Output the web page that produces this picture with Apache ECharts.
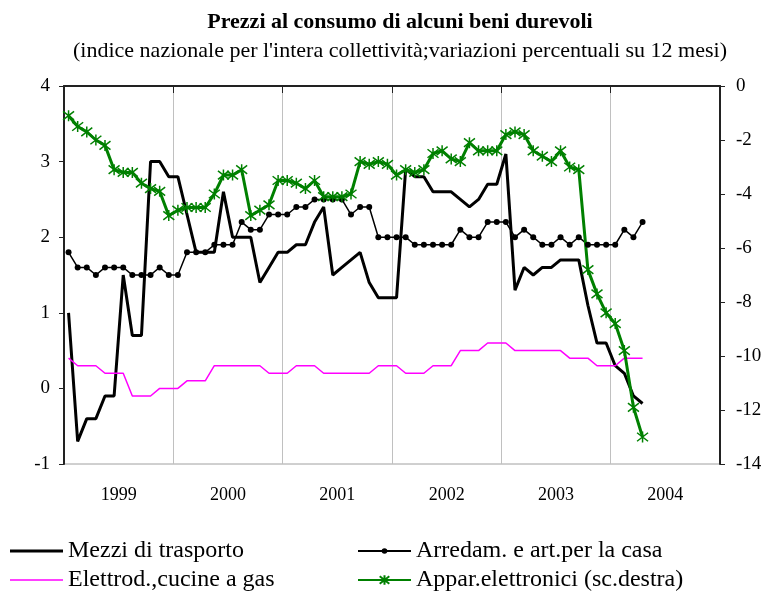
<!DOCTYPE html>
<html>
<head>
<meta charset="utf-8">
<script src="https://cdn.jsdelivr.net/npm/echarts@6/dist/echarts.min.js"></script>
<style>
  html, body { margin: 0; padding: 0; background: #fff; }
  #main { width: 768px; height: 598px; }
</style>
</head>
<body>
<div id="main"></div>
<script>
// monthly data, Jan 1999 - Apr 2004
const years = ['1999', '2000', '2001', '2002', '2003', '2004'];

const mezzi = [1.0, -0.7, -0.4, -0.4, -0.1, -0.1, 1.5, 0.7, 0.7, 3.0, 3.0, 2.8,
  2.8, 2.3, 1.8, 1.8, 1.8, 2.6, 2.0, 2.0, 2.0, 1.4, 1.6, 1.8,
  1.8, 1.9, 1.9, 2.2, 2.4, 1.5, 1.6, 1.7, 1.8, 1.4, 1.2, 1.2,
  1.2, 2.9, 2.8, 2.8, 2.6, 2.6, 2.6, 2.5, 2.4, 2.5, 2.7, 2.7,
  3.1, 1.3, 1.6, 1.5, 1.6, 1.6, 1.7, 1.7, 1.7, 1.1, 0.6, 0.6,
  0.3, 0.2, -0.1, -0.2];

const arredam = [1.8, 1.6, 1.6, 1.5, 1.6, 1.6, 1.6, 1.5, 1.5, 1.5, 1.6, 1.5,
  1.5, 1.8, 1.8, 1.8, 1.9, 1.9, 1.9, 2.2, 2.1, 2.1, 2.3, 2.3,
  2.3, 2.4, 2.4, 2.5, 2.5, 2.5, 2.5, 2.3, 2.4, 2.4, 2.0, 2.0,
  2.0, 2.0, 1.9, 1.9, 1.9, 1.9, 1.9, 2.1, 2.0, 2.0, 2.2, 2.2,
  2.2, 2.0, 2.1, 2.0, 1.9, 1.9, 2.0, 1.9, 2.0, 1.9, 1.9, 1.9,
  1.9, 2.1, 2.0, 2.2];

const elettrod = [0.4, 0.3, 0.3, 0.3, 0.2, 0.2, 0.2, -0.1, -0.1, -0.1, 0.0, 0.0,
  0.0, 0.1, 0.1, 0.1, 0.3, 0.3, 0.3, 0.3, 0.3, 0.3, 0.2, 0.2,
  0.2, 0.3, 0.3, 0.3, 0.2, 0.2, 0.2, 0.2, 0.2, 0.2, 0.3, 0.3,
  0.3, 0.2, 0.2, 0.2, 0.3, 0.3, 0.3, 0.5, 0.5, 0.5, 0.6, 0.6,
  0.6, 0.5, 0.5, 0.5, 0.5, 0.5, 0.5, 0.4, 0.4, 0.4, 0.3, 0.3,
  0.3, 0.4, 0.4, 0.4];

// right scale
const appar = [-1.1, -1.5, -1.7, -2.0, -2.2, -3.1, -3.2, -3.2, -3.6, -3.8, -3.9, -4.8,
  -4.6, -4.5, -4.5, -4.5, -4.0, -3.3, -3.3, -3.1, -4.8, -4.6, -4.4, -3.5,
  -3.5, -3.6, -3.8, -3.5, -4.1, -4.1, -4.1, -4.0, -2.8, -2.9, -2.8, -2.9,
  -3.3, -3.1, -3.2, -3.1, -2.5, -2.4, -2.7, -2.8, -2.1, -2.4, -2.4, -2.4,
  -1.8, -1.7, -1.8, -2.4, -2.6, -2.8, -2.4, -3.0, -3.1, -6.8, -7.7, -8.4,
  -8.8, -9.8, -11.9, -13.0];

const months = [];
years.forEach(y => {
  for (let m = 1; m <= 12; m++) months.push(y + '-' + (m < 10 ? '0' + m : m));
});

const serif = "'Liberation Serif', 'Times New Roman', serif";
const star = 'path://M0,0L10,10M0,10L10,0M5,-1.5L5,11.5';
const legendText = { fontFamily: serif, fontSize: 24, color: '#000' };

function oneLegend(name, left, top, extra) {
  return Object.assign({
    left: left, top: top, itemWidth: 53, itemHeight: 12,
    textStyle: legendText, data: [name]
  }, extra || {});
}

var chart = echarts.init(document.getElementById('main'));
chart.setOption({
  animation: false,
  title: [{
    text: 'Prezzi al consumo di alcuni beni durevoli',
    left: 395, top: 6, textAlign: 'center',
    textStyle: { fontFamily: serif, fontWeight: 'bold', fontSize: 22, color: '#000' }
  }, {
    text: "(indice nazionale per l'intera collettività;variazioni percentuali su 12 mesi)",
    left: 395, top: 35, textAlign: 'center',
    textStyle: { fontFamily: serif, fontWeight: 'normal', fontSize: 22, color: '#000' }
  }],
  legend: [
    oneLegend('Mezzi di trasporto', 5, 534, { icon: 'rect', itemHeight: 3 }),
    oneLegend('Elettrod.,cucine a gas', 5, 563, { icon: 'rect', itemHeight: 1.5 }),
    oneLegend('Arredam. e art.per la casa', 352, 534, { itemHeight: 7 }),
    oneLegend('Appar.elettronici (sc.destra)', 352, 563)
  ],
  grid: {
    left: 64, right: 48, top: 86, bottom: 134,
    show: true, borderColor: '#a0a0a0', borderWidth: 1,
    containLabel: false, outerBoundsMode: 'none'
  },
  xAxis: [{
    type: 'category', data: months, show: false, boundaryGap: true
  }, {
    type: 'category', data: years, position: 'bottom', boundaryGap: true,
    axisLine: { show: true, lineStyle: { color: '#222', width: 2 } },
    axisTick: { show: true, length: 7, lineStyle: { color: '#222', width: 1 } },
    axisLabel: { margin: 22, fontFamily: serif, fontSize: 18, color: '#000' },
    splitLine: { show: true, lineStyle: { color: '#c0c0c0', width: 1 } }
  }],
  yAxis: [{
    type: 'value', min: -1, max: 4, interval: 1, position: 'left',
    axisLine: { show: true, lineStyle: { color: '#222', width: 2 } },
    axisTick: { show: true, length: 5, lineStyle: { color: '#222' } },
    axisLabel: { margin: 14, fontFamily: serif, fontSize: 19, color: '#000' },
    splitLine: { show: false }
  }, {
    type: 'value', min: -14, max: 0, interval: 2, position: 'right',
    axisLine: { show: true, lineStyle: { color: '#222', width: 2 } },
    axisTick: { show: true, length: 5, lineStyle: { color: '#222' } },
    axisLabel: { margin: 16, fontFamily: serif, fontSize: 19, color: '#000' },
    splitLine: { show: false }
  }],
  series: [{
    name: 'Mezzi di trasporto', type: 'line', data: mezzi,
    xAxisIndex: 0, yAxisIndex: 0, symbol: 'none',
    lineStyle: { color: '#000', width: 3 }, itemStyle: { color: '#000' }
  }, {
    name: 'Arredam. e art.per la casa', type: 'line', data: arredam,
    xAxisIndex: 0, yAxisIndex: 0, symbol: 'circle', symbolSize: 6, showAllSymbol: true,
    lineStyle: { color: '#000', width: 1.5 }, itemStyle: { color: '#000' }
  }, {
    name: 'Elettrod.,cucine a gas', type: 'line', data: elettrod,
    xAxisIndex: 0, yAxisIndex: 0, symbol: 'none',
    lineStyle: { color: '#ff00ff', width: 1.5 }, itemStyle: { color: '#ff00ff' }
  }, {
    name: 'Appar.elettronici (sc.destra)', type: 'line', data: appar,
    xAxisIndex: 0, yAxisIndex: 1, symbol: star, symbolSize: 11, showAllSymbol: true,
    lineStyle: { color: '#008000', width: 3 },
    itemStyle: { color: '#008000', borderColor: '#008000', borderWidth: 1.5 }
  }]
});
</script>
</body>
</html>
